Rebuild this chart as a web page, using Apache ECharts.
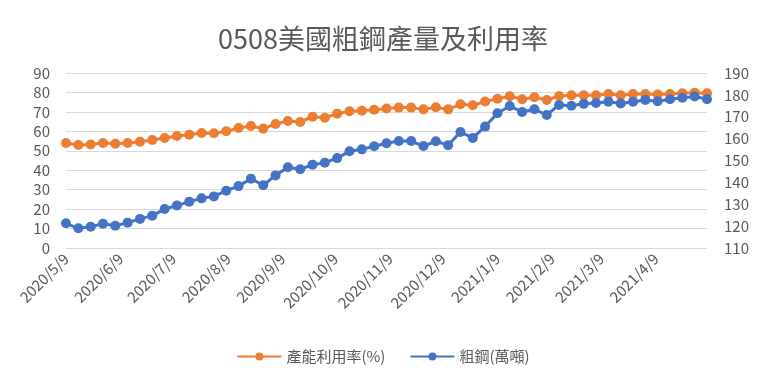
<!DOCTYPE html>
<html><head><meta charset="utf-8">
<script src="https://cdn.jsdelivr.net/npm/echarts@6/dist/echarts.min.js"></script>
<style>html,body{margin:0;padding:0;background:#fff}#c{width:766px;height:382px}</style>
</head><body><div id="c"></div>
<script>
const dates = ['2020-05-09','2020-05-16','2020-05-23','2020-05-30','2020-06-06','2020-06-13','2020-06-20','2020-06-27',
'2020-07-04','2020-07-11','2020-07-18','2020-07-25','2020-08-01','2020-08-08','2020-08-15','2020-08-22','2020-08-29',
'2020-09-05','2020-09-12','2020-09-19','2020-09-26','2020-10-03','2020-10-10','2020-10-17','2020-10-24','2020-10-31',
'2020-11-07','2020-11-14','2020-11-21','2020-11-28','2020-12-05','2020-12-12','2020-12-19','2020-12-26',
'2021-01-02','2021-01-09','2021-01-16','2021-01-23','2021-01-30','2021-02-06','2021-02-13','2021-02-20','2021-02-27',
'2021-03-06','2021-03-13','2021-03-20','2021-03-27','2021-04-03','2021-04-10','2021-04-17','2021-04-24','2021-05-01','2021-05-08'];
const utilization = [54.0,53.0,53.2,54.0,53.6,54.0,54.7,55.5,56.6,57.6,58.3,59.1,59.0,60.0,61.7,62.7,61.4,63.8,65.3,64.8,
67.5,67.0,69.1,70.3,70.6,71.1,71.7,72.2,72.2,71.3,72.4,71.3,73.9,73.4,75.3,76.8,78.0,76.5,77.5,76.1,78.2,78.5,78.5,78.5,
79.2,78.5,79.2,79.2,78.9,79.2,79.6,79.9,79.6];
const output = [121.3,119.0,119.7,121.1,120.2,121.6,123.3,124.8,127.8,129.4,131.2,132.7,133.6,136.2,138.3,141.7,138.7,
143.2,146.9,146.0,148.1,149.0,151.1,154.2,155.1,156.5,157.9,158.9,158.9,156.6,158.8,157.0,163.0,160.3,165.5,171.6,
174.9,172.2,173.4,170.8,175.4,175.0,175.9,176.3,176.9,176.1,176.9,177.7,177.1,178.0,178.7,179.3,178.0];
const xTicks = ['2020-05-09','2020-06-09','2020-07-09','2020-08-09','2020-09-09','2020-10-09','2020-11-09','2020-12-09',
'2021-01-09','2021-02-09','2021-03-09','2021-04-09'];
const leftTicks = [0,90,10];
const rightTicks = [110,190,10];
const title = '0508美國粗鋼產量及利用率';
const names = ['產能利用率(%)','粗鋼(萬噸)'];

const DAY = 86400000;
const dnum = s => { const p = s.split('-').map(Number); return Math.round(Date.UTC(p[0], p[1]-1, p[2]) / DAY); };
const dfmt = v => { const d = new Date(v * DAY); return d.getUTCFullYear()+'/'+(d.getUTCMonth()+1)+'/'+d.getUTCDate(); };
const font = '"Noto Sans CJK TC","Noto Sans",sans-serif';
const chart = echarts.init(document.getElementById('c'));
chart.setOption({
  animation:false,
  title:{text:title,left:'center',top:20,textStyle:{fontFamily:font,fontSize:27,fontWeight:'normal',color:'#595959'}},
  legend:{bottom:13,left:'center',itemWidth:44,itemHeight:10,itemGap:24,
    textStyle:{fontFamily:font,fontSize:15,color:'#595959'},data:names},
  grid:{left:66,right:59,top:73,bottom:134},
  xAxis:{type:'value',min:dnum(dates[0]),max:dnum(dates[dates.length-1]),
    axisLine:{show:false},axisTick:{show:false},splitLine:{show:false},
    axisLabel:{customValues:xTicks.map(dnum),rotate:45,color:'#595959',fontSize:15,fontFamily:font,margin:8,
      showMinLabel:true,showMaxLabel:true,formatter:dfmt}},
  yAxis:[
    {type:'value',min:leftTicks[0],max:leftTicks[1],interval:leftTicks[2],
     axisLine:{show:false},axisTick:{show:false},
     splitLine:{lineStyle:{color:'#d9d9d9',width:1}},
     axisLabel:{color:'#595959',fontSize:15,fontFamily:font,margin:16}},
    {type:'value',min:rightTicks[0],max:rightTicks[1],interval:rightTicks[2],
     axisLine:{show:false},axisTick:{show:false},splitLine:{show:false},
     axisLabel:{color:'#595959',fontSize:15,fontFamily:font,margin:17}}
  ],
  series:[
    {name:names[0],type:'line',yAxisIndex:0,symbol:'circle',symbolSize:10,
     itemStyle:{color:'#ED7D31'},lineStyle:{color:'#ED7D31',width:3},
     data:dates.map((d,i)=>[dnum(d),utilization[i]])},
    {name:names[1],type:'line',yAxisIndex:1,symbol:'circle',symbolSize:10,
     itemStyle:{color:'#4472C4'},lineStyle:{color:'#4472C4',width:3},
     data:dates.map((d,i)=>[dnum(d),output[i]])}
  ]
});
</script></body></html>
